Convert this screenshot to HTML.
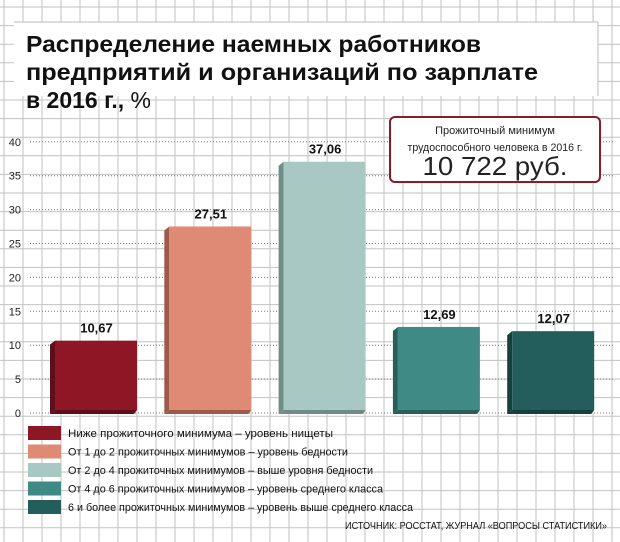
<!DOCTYPE html>
<html><head><meta charset="utf-8"><style>
html,body{margin:0;padding:0;background:#fff}
svg{display:block;font-family:"Liberation Sans",sans-serif}
</style></head><body>
<svg id="c" width="620" height="542" viewBox="0 0 620 542">
<g id="grid"></g>
<rect x="14" y="22" width="584" height="74" fill="#fff"/>
<line x1="14" y1="22" x2="598" y2="22" stroke="#bbb"/>
<line x1="598" y1="22" x2="598" y2="96" stroke="#bbb"/>
<g font-weight="bold" font-size="23" fill="#111">
<text x="26" y="52" textLength="455" lengthAdjust="spacingAndGlyphs">Распределение наемных работников</text>
<text x="26" y="80" textLength="512" lengthAdjust="spacingAndGlyphs">предприятий и организаций по зарплате</text>
<text x="26" y="108">в 2016 г., <tspan font-weight="normal">%</tspan></text>
</g>
<g id="axis"></g>
<g id="bars"></g>
<g>
<rect x="390" y="117" width="210" height="65" rx="5" fill="#fff" stroke="#8b1a2a" stroke-width="2"/>
<text x="495" y="134" font-size="11" text-anchor="middle" fill="#222">Прожиточный минимум</text>
<text x="495" y="151" font-size="11" text-anchor="middle" fill="#222" textLength="175" lengthAdjust="spacingAndGlyphs">трудоспособного человека в 2016 г.</text>
<text x="495" y="175" font-size="26" text-anchor="middle" fill="#222" textLength="145" lengthAdjust="spacingAndGlyphs">10 722 руб.</text>
</g>
<g id="legend"></g>
<text x="607" y="529" font-size="10" text-anchor="end" fill="#111" textLength="262" lengthAdjust="spacingAndGlyphs">ИСТОЧНИК: РОССТАТ, ЖУРНАЛ «ВОПРОСЫ СТАТИСТИКИ»</text>
</svg>
<script>
const categories=["Ниже прожиточного минимума – уровень нищеты","От 1 до 2 прожиточных минимумов – уровень бедности","От 2 до 4 прожиточных минимумов – выше уровня бедности","От 4 до 6 прожиточных минимумов – уровень среднего класса","6 и более прожиточных минимумов – уровень выше среднего класса"];
const values=[10.67,27.51,37.06,12.69,12.07];
const valueLabels=["10,67","27,51","37,06","12,69","12,07"];
const yTicks=[0,5,10,15,20,25,30,35,40];
const colors=["#8e1726","#de8a74","#a8c8c4","#3f8a84","#235e5c"];
const sides=["#5e0f19","#9c5a4b","#6f8c89","#2a5e5a","#163f3d"];
const NS="http://www.w3.org/2000/svg";
function mk(t,a,p){const e=document.createElementNS(NS,t);for(const k in a)e.setAttribute(k,a[k]);p.appendChild(e);return e;}
const y0=413,pxPer=6.78;
function y(v){return y0-v*pxPer;}
function x(i){return 50+i*114.3;}
const bw=87;
const grid=document.getElementById('grid');
for(let gx=4;gx<620;gx+=19){const l=mk('line',{x1:gx,y1:0,x2:gx,y2:542,stroke:'#c2c2c2','stroke-width':1},grid);}
for(let gy=7;gy<542;gy+=18.6){const l=mk('line',{x1:0,y1:gy,x2:620,y2:gy,stroke:'#c2c2c2','stroke-width':1},grid);}
const ax=document.getElementById('axis');
yTicks.forEach(t=>{
 const l=mk('line',{x1:30,y1:y(t),x2:615,y2:y(t),stroke:'#777','stroke-dasharray':'1,2'},ax);
 
 const tx=mk('text',{x:21,y:y(t)+4,'font-size':11,'text-anchor':'end',fill:'#222'},ax);tx.textContent=t;
 
});
const bars=document.getElementById('bars');
values.forEach((v,i)=>{
 const g=mk('g',{},bars);
 const top=y(v),bx=x(i);
 const s=mk('polygon',{points:`${bx},${top+4} ${bx+5},${top} ${bx+5},${y0-3} ${bx},${y0+1}`,fill:sides[i]},g);
 
 const b=mk('polygon',{points:`${bx},${y0+1} ${bx+5},${y0-3} ${bx+bw},${y0-3} ${bx+bw-3},${y0+1}`,fill:sides[i]},g);
 
 const r=mk('rect',{x:bx+5,y:top,width:bw-5,height:y0-3-top,fill:colors[i]},g);
 
 const t=mk('text',{x:bx+bw/2+3,y:top-8,'font-size':13,'font-weight':'bold','text-anchor':'middle',fill:'#111'},g);t.textContent=valueLabels[i];
 
});
const lg=document.getElementById('legend');
categories.forEach((c,i)=>{
 const g=mk('g',{},lg);
 const ry=426+i*18.5;
 const r=mk('rect',{x:28,y:ry,width:33,height:14,fill:colors[i]},g);
 
 const t=mk('text',{x:68,y:ry+11,'font-size':11,fill:'#111'},g);t.textContent=c;
 
 const w=[265,280,305,315,345][i];t.setAttribute('textLength',w);t.setAttribute('lengthAdjust','spacingAndGlyphs');
});
</script>
</body></html>
